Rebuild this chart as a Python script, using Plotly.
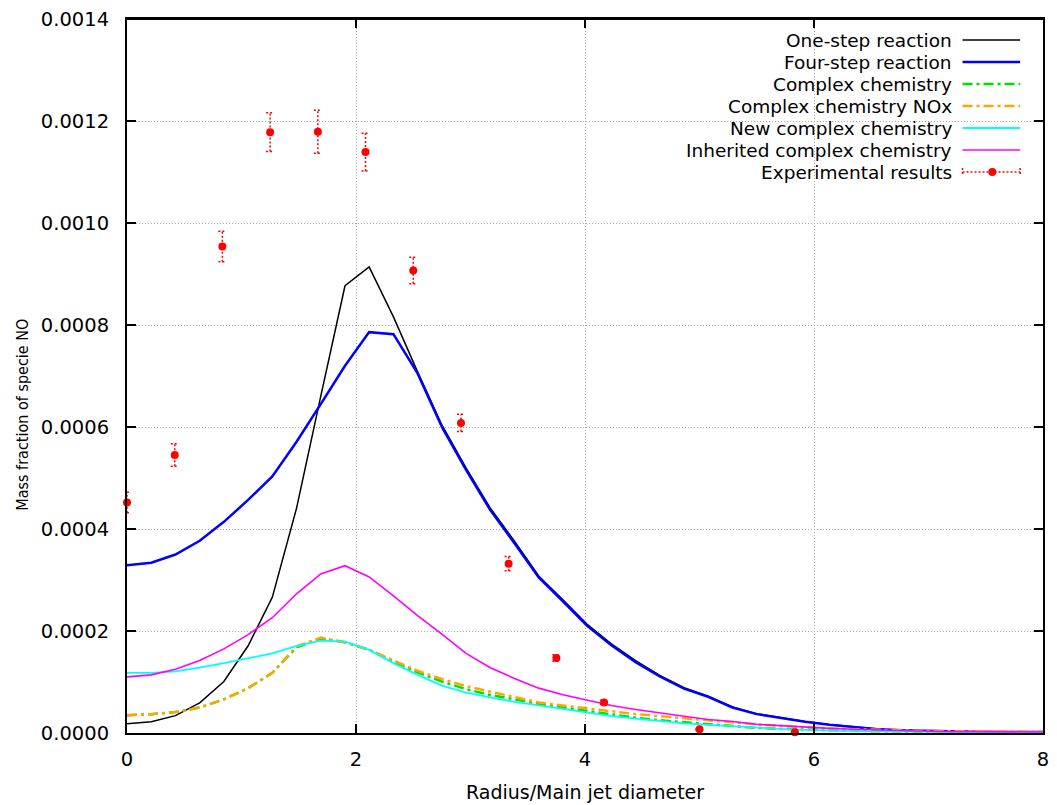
import plotly.graph_objects as go

# ---------------- data ----------------
radius = [0.000, 0.212, 0.423, 0.635, 0.846, 1.058, 1.269, 1.481, 1.692, 1.904,
          2.115, 2.327, 2.538, 2.750, 2.961, 3.173, 3.384, 3.596, 3.807, 4.019,
          4.230, 4.442, 4.653, 4.865, 5.076, 5.288, 5.499, 5.711, 5.922, 6.134,
          6.345, 6.557, 6.768, 6.980, 7.191, 7.403, 7.614, 7.826, 8.037]

one_step = [1.8e-5, 2.2e-5, 3.4e-5, 5.9e-5, 1.01e-4, 1.71e-4, 2.66e-4, 4.41e-4, 6.6e-4, 8.77e-4,
            9.14e-4, 8.16e-4, 7.08e-4, 6.04e-4, 5.2e-4, 4.41e-4, 3.76e-4, 3.08e-4, 2.61e-4, 2.13e-4,
            1.75e-4, 1.42e-4, 1.13e-4, 8.9e-5, 7.2e-5, 5.1e-5, 3.8e-5, 2.95e-5, 2.25e-5, 1.65e-5,
            1.2e-5, 8e-6, 5.5e-6, 4.2e-6, 3.2e-6, 2.6e-6, 2.2e-6, 2e-6, 2e-6]

four_step = [3.29e-4, 3.34e-4, 3.50e-4, 3.77e-4, 4.14e-4, 4.57e-4, 5.03e-4, 5.71e-4, 6.45e-4, 7.20e-4,
             7.86e-4, 7.82e-4, 7.05e-4, 6.00e-4, 5.16e-4, 4.37e-4, 3.72e-4, 3.05e-4, 2.58e-4, 2.10e-4,
             1.72e-4, 1.39e-4, 1.11e-4, 8.7e-5, 7.1e-5, 5.0e-5, 3.7e-5, 2.9e-5, 2.2e-5, 1.6e-5,
             1.15e-5, 7.5e-6, 5.2e-6, 4e-6, 3e-6, 2.5e-6, 2.1e-6, 2e-6, 2e-6]

complex_chem = [3.5e-5, 3.7e-5, 4.1e-5, 5.0e-5, 6.6e-5, 8.8e-5, 1.18e-4, 1.68e-4, 1.85e-4, 1.78e-4,
                1.63e-4, 1.40e-4, 1.19e-4, 1.01e-4, 8.6e-5, 7.45e-5, 6.6e-5, 5.7e-5, 5.0e-5, 4.3e-5,
                3.6e-5, 3.0e-5, 2.5e-5, 2.1e-5, 1.7e-5, 1.3e-5, 1.0e-5, 8e-6, 6.5e-6, 5e-6,
                4e-6, 3.5e-6, 3e-6, 2.5e-6, 2e-6, 2e-6, 2e-6, 2e-6, 2e-6]

complex_nox = [3.5e-5, 3.7e-5, 4.1e-5, 5.0e-5, 6.6e-5, 8.8e-5, 1.18e-4, 1.70e-4, 1.87e-4, 1.78e-4,
               1.63e-4, 1.42e-4, 1.22e-4, 1.06e-4, 9.2e-5, 8.1e-5, 7.0e-5, 6.0e-5, 5.4e-5, 4.8e-5,
               4.2e-5, 3.7e-5, 3.3e-5, 2.9e-5, 2.45e-5, 2.05e-5, 1.7e-5, 1.4e-5, 1.1e-5, 9e-6,
               7.5e-6, 6e-6, 5e-6, 4e-6, 3.5e-6, 3e-6, 2.8e-6, 2.6e-6, 2.5e-6]

new_complex = [1.18e-4, 1.18e-4, 1.21e-4, 1.28e-4, 1.37e-4, 1.46e-4, 1.56e-4, 1.71e-4, 1.81e-4, 1.79e-4,
               1.63e-4, 1.37e-4, 1.14e-4, 9.3e-5, 7.9e-5, 7.0e-5, 6.1e-5, 5.4e-5, 4.7e-5, 3.9e-5,
               3.3e-5, 2.8e-5, 2.35e-5, 1.9e-5, 1.6e-5, 1.3e-5, 1.0e-5, 8e-6, 6e-6, 4.5e-6,
               3.5e-6, 3e-6, 2.5e-6, 2e-6, 1.8e-6, 1.5e-6, 1.5e-6, 1.2e-6, 1e-6]

inherited = [1.10e-4, 1.14e-4, 1.25e-4, 1.42e-4, 1.65e-4, 1.93e-4, 2.26e-4, 2.73e-4, 3.12e-4, 3.28e-4,
             3.06e-4, 2.69e-4, 2.30e-4, 1.94e-4, 1.56e-4, 1.28e-4, 1.07e-4, 8.8e-5, 7.5e-5, 6.5e-5,
             5.4e-5, 4.6e-5, 3.9e-5, 3.3e-5, 2.65e-5, 2.25e-5, 1.7e-5, 1.4e-5, 1.1e-5, 9e-6,
             7.3e-6, 5.8e-6, 4.5e-6, 3.5e-6, 3e-6, 2.5e-6, 2e-6, 2e-6, 2e-6]

exp_x = [0.0, 0.417, 0.833, 1.25, 1.667, 2.083, 2.5, 2.917, 3.333, 3.75, 4.167, 5.0, 5.833]
exp_y = [4.52e-4, 5.45e-4, 9.54e-4, 1.178e-3, 1.179e-3, 1.139e-3, 9.07e-4, 6.08e-4, 3.32e-4,
         1.47e-4, 6.0e-5, 7.5e-6, 1.4e-6]
exp_err = [2.0e-5, 2.2e-5, 3.0e-5, 3.8e-5, 4.2e-5, 3.7e-5, 2.6e-5, 1.7e-5, 1.4e-5,
           6.5e-6, 4e-6, 1e-6, 5e-7]

series_names = ["One-step reaction", "Four-step reaction", "Complex chemistry",
                "Complex chemistry NOx", "New complex chemistry", "Inherited complex chemistry",
                "Experimental results"]
x_ticks = [0, 2, 4, 6, 8]
y_ticks = [0.0, 0.0002, 0.0004, 0.0006, 0.0008, 0.0010, 0.0012, 0.0014]

# ---------------- styles ----------------
FONT = "DejaVu Sans, Verdana, sans-serif"
DASHDOT = "10px,4px,3px,4px"
styles = [
    dict(color="#000000", width=1.5, dash="solid"),
    dict(color="#0000ff", width=2.5, dash="solid"),
    dict(color="#00e000", width=2.5, dash=DASHDOT),
    dict(color="#ffa500", width=2.5, dash=DASHDOT),
    dict(color="#00ffff", width=1.8, dash="solid"),
    dict(color="#ff00ff", width=1.6, dash="solid"),
]
model_series = [one_step, four_step, complex_chem, complex_nox, new_complex, inherited]

# page geometry (body margin is removed by post_script, figure sits at 0,0)
W, H = 1057, 805
PL, PR, PT, PB = 127, 1049, 19, 733          # plot area in page pixels
L, T, R, B = PL, PT, W - PR, H - PB
PW, PH = PR - PL, PB - PT


def px_x(p):
    return (p - PL) / PW


def px_y(p):
    return (PB - p) / PH


fig = go.Figure()

for name, ys, st in zip(series_names[:6], model_series, styles):
    fig.add_trace(go.Scatter(x=radius, y=ys, mode="lines", name=name,
                             line=dict(color=st["color"], width=st["width"], dash=st["dash"]),
                             showlegend=False))

# experimental error bars (dotted, with caps), built from the data arrays
cap = 0.035
ex, ey = [], []
for xv, yv, ev in zip(exp_x, exp_y, exp_err):
    ex += [xv, xv, None, xv - cap, xv + cap, None, xv - cap, xv + cap, None]
    ey += [yv - ev, yv + ev, None, yv + ev, yv + ev, None, yv - ev, yv - ev, None]
fig.add_trace(go.Scatter(x=ex, y=ey, mode="lines", showlegend=False, hoverinfo="skip",
                         line=dict(color="#ff0000", width=1.5, dash="2px,2px")))
fig.add_trace(go.Scatter(x=exp_x, y=exp_y, mode="markers", name=series_names[6],
                         marker=dict(color="#ff0000", size=8), showlegend=False,
                         cliponaxis=False))

# ---------------- custom gnuplot-style legend ----------------
shapes = []
annotations = []
shapes.append(dict(type="rect", xref="paper", yref="paper", x0=px_x(637), x1=1.0,
                   y0=px_y(188), y1=px_y(21), fillcolor="white", line=dict(width=0),
                   layer="between"))
row_y = [40, 62, 84, 106, 128, 150, 172]
for i, name in enumerate(series_names):
    annotations.append(dict(xref="paper", yref="paper", x=px_x(959), y=px_y(row_y[i]),
                            xanchor="right", yanchor="middle", text=name, showarrow=False,
                            font=dict(family=FONT, size=18.5, color="black")))
    if i < 6:
        st = styles[i]
        shapes.append(dict(type="line", xref="paper", yref="paper",
                           x0=px_x(968), x1=px_x(1026), y0=px_y(row_y[i]), y1=px_y(row_y[i]),
                           line=dict(color=st["color"], width=st["width"], dash=st["dash"])))
    else:
        yy = row_y[i]
        shapes.append(dict(type="line", xref="paper", yref="paper",
                           x0=px_x(968), x1=px_x(1026), y0=px_y(yy), y1=px_y(yy),
                           line=dict(color="#ff0000", width=1.5, dash="2px,2px")))
        for xe in (968, 1026):
            shapes.append(dict(type="line", xref="paper", yref="paper",
                               x0=px_x(xe), x1=px_x(xe), y0=px_y(yy - 4), y1=px_y(yy + 4),
                               line=dict(color="#ff0000", width=1.5, dash="2px,2px")))
        shapes.append(dict(type="circle", xref="paper", yref="paper",
                           x0=px_x(994), x1=px_x(1002), y0=px_y(yy + 4), y1=px_y(yy - 4),
                           fillcolor="#ff0000", line=dict(color="#ff0000", width=0)))

# plot border (gnuplot-style box): explicit top edge
shapes.append(dict(type="line", xref="paper", yref="paper", x0=0, x1=1, y0=1, y1=1,
                   line=dict(color="black", width=2), layer="above"))

# axis titles
annotations.append(dict(xref="paper", yref="paper", x=0.5, y=px_y(792),
                        xanchor="center", yanchor="middle", text="Radius/Main jet diameter",
                        showarrow=False, font=dict(family=FONT, size=19, color="black")))
annotations.append(dict(xref="paper", yref="paper", x=px_x(21), y=px_y(415),
                        xanchor="center", yanchor="middle", text="Mass fraction of specie NO",
                        textangle=-90, showarrow=False,
                        font=dict(family="DejaVu Sans Condensed, Liberation Sans Narrow, sans-serif",
                                  size=16, color="black")))

axis_common = dict(showline=True, linecolor="black", linewidth=2, mirror="ticks",
                   ticks="inside", ticklen=9, tickwidth=1.5, tickcolor="black",
                   showgrid=True, gridcolor="#a8a8a8", gridwidth=1, griddash="1px,2px",
                   zeroline=False, tickfont=dict(family=FONT, size=19.5, color="black"))

fig.update_layout(
    width=W, height=H,
    margin=dict(l=L, r=R, t=T, b=B, pad=0),
    paper_bgcolor="white", plot_bgcolor="white",
    xaxis=dict(range=[0, 8], tickvals=x_ticks, ticktext=[str(v) for v in x_ticks],
               ticklabelstandoff=8, **axis_common),
    yaxis=dict(range=[0, 0.0014], tickvals=y_ticks, tickformat=".4f",
               ticklabelstandoff=12, **axis_common),
    shapes=shapes, annotations=annotations,
    showlegend=False,
)

fig.write_html("out.html", config={"displayModeBar": False},
               post_script="document.body.style.margin='0';document.body.style.overflow='hidden';")
